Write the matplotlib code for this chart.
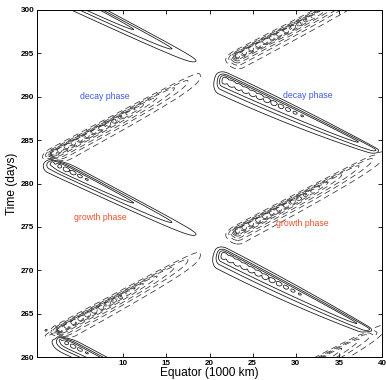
import numpy as np
import matplotlib
matplotlib.use("Agg")
import matplotlib.pyplot as plt

plt.rcParams['font.family'] = ['Liberation Sans', 'DejaVu Sans']

# ---- axis settings ----
x_ticks = [10, 15, 20, 25, 30, 35, 40]
y_ticks = [260, 265, 270, 275, 280, 285, 290, 295, 300]
x_lim = (0, 40)
y_lim = (260, 300)

# ---- bands of the field (head -> tail), positive = solid, negative = dashed ----
band_head_x = [1.8, 1.8, 1.8, 21.8, 21.7, 1.8, 1.8, 23.2, 23.2, 23.2]
band_head_t = [282.5, 302.5, 262.5, 292.0, 271.8, 262.8, 283.5, 274.6, 294.8, 254.6]
band_tail_x = [19.1, 19.1, 19.1, 39.6, 39.4, 19.6, 19.6, 41.0, 41.0, 41.0]
band_tail_t = [273.8, 293.8, 253.8, 283.7, 262.7, 272.4, 293.0, 284.0, 304.0, 264.0]
band_peak = [1.0, 1.0, 1.0, 1.0, 1.0, -1.2, -1.2, -1.2, -1.2, -1.2]
band_w_up = [0.5, 0.5, 0.5, 0.55, 0.55, 0.4, 0.4, 0.4, 0.4, 0.4]
band_w_dn = [0.95, 0.95, 0.95, 1.25, 1.25, 1.1, 1.1, 1.1, 1.1, 1.1]
band_decay = [0.65, 0.65, 0.65, 0.25, 0.25, 3.0, 3.0, 3.0, 3.0, 3.0]

pos_levels = [0.12, 0.35, 0.6, 0.85]
neg_levels = [-1.15, -1.05, -0.95, -0.82, -0.6, -0.38, -0.14]

x = np.linspace(-2, 42, 881)
t = np.linspace(252, 308, 1121)
X, T = np.meshgrid(x, t)


def band(hx, ht, tx, tt, peak, wup, wdn, q):
    dx, dt = tx - hx, tt - ht
    L = np.hypot(dx, dt)
    ex, et = dx / L, dt / L
    nx, nt = -et, ex
    if nt < 0:
        nx, nt = -nx, -nt
    rx, rt = X - hx, T - ht
    u = rx * ex + rt * et
    d = rx * nx + rt * nt
    s = np.clip(u / L, 0, 1)
    if peak > 0:
        along = np.where(u < 0, np.exp(-(u / 0.8) ** 2), (1 - s) ** q)
        if q < 0.5:
            taper = 1 - 0.65 * s ** 2
        else:
            taper = 1 - 0.4 * s
    else:
        along = np.where(u < 0, np.exp(-(u / 1.0) ** 2), 1 - s ** q)
        taper = 1 - 0.15 * s
    w = np.where(d > 0, wup, wdn) * taper
    f = along * np.exp(-(d / w) ** 2)
    # small-scale texture in the core
    core = np.clip(f - 0.78, 0, None)
    f = f + 0.5 * core * np.cos(2 * np.pi * u / 0.9)
    return peak * f


Z = np.zeros_like(X)
for i in range(len(band_head_x)):
    Z += band(band_head_x[i], band_head_t[i], band_tail_x[i], band_tail_t[i],
              band_peak[i], band_w_up[i], band_w_dn[i], band_decay[i])

fig = plt.figure(figsize=(3.86, 3.80), dpi=100)
ax = fig.add_axes([37 / 386, 1 - 357 / 380, (382 - 37) / 386, (357 - 10) / 380])

ax.contour(X, T, Z, levels=pos_levels, colors='#111111', linewidths=0.55,
           linestyles='solid')
cn = ax.contour(X, T, Z, levels=neg_levels, colors='#333333', linewidths=0.55,
                linestyles='dashed')
cn.set_dashes([(0, (8, 5))])

ax.set_xlim(*x_lim)
ax.set_ylim(*y_lim)
ax.set_xticks(x_ticks)
ax.set_yticks(y_ticks)
ax.tick_params(direction='in', top=True, right=True, length=3, width=0.6,
               labelsize=5.8, pad=2)
for lab in ax.get_xticklabels() + ax.get_yticklabels():
    lab.set_fontweight('bold')
for s in ax.spines.values():
    s.set_linewidth(0.7)

ax.set_xlabel('Equator (1000 km)', fontsize=8.6, labelpad=0)
ax.set_ylabel('Time (days)', fontsize=8.6, labelpad=2)

ax.text(7.9, 290.0, 'decay phase', color='#3b5ae8', fontsize=6.3,
        ha='center', va='center')
ax.text(31.4, 290.2, 'decay phase', color='#3b5ae8', fontsize=6.3,
        ha='center', va='center')
ax.text(7.3, 276.1, 'growth phase', color='#e9502c', fontsize=6.3,
        ha='center', va='center')
ax.text(30.8, 275.4, 'growth phase', color='#e9502c', fontsize=6.3,
        ha='center', va='center')

fig.savefig('out.png', dpi=100)
